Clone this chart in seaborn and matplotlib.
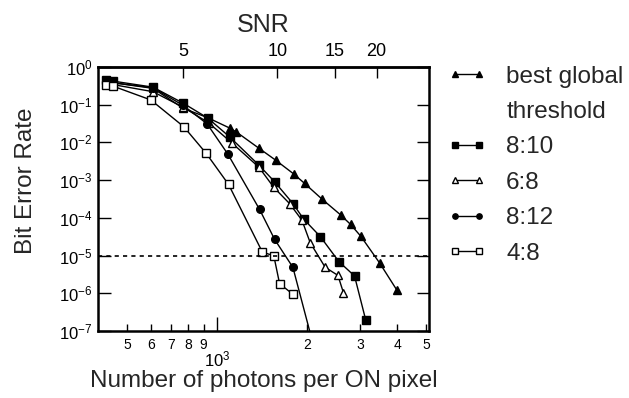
import matplotlib
matplotlib.use("Agg")
import seaborn as sns
import matplotlib.pyplot as plt
from matplotlib.lines import Line2D
from matplotlib.ticker import FixedLocator, FixedFormatter, NullLocator

# values: photons per ON pixel vs. bit error rate
photons_global = [425, 448, 610, 770, 930, 1100, 1157, 1378, 1566, 1803, 1958,
                  2244, 2584, 2790, 3015, 3488, 3989]
ber_global = [0.40, 0.38, 0.27, 0.08, 0.045, 0.024, 0.019, 7.0e-3, 3.4e-3, 1.45e-3,
              8.2e-4, 3.1e-4, 1.2e-4, 6.7e-5, 3.3e-5, 6.4e-6, 1.2e-6]

photons_8_10 = [425, 448, 610, 770, 930, 1100, 1378, 1554, 1790, 1944, 2210, 2552,
                2876, 3136]
ber_8_10 = [0.44, 0.42, 0.29, 0.109, 0.044, 0.014, 2.5e-3, 9.1e-4, 2.4e-4, 9.3e-5,
            3.2e-5, 6.9e-6, 2.9e-6, 1.95e-7]

photons_6_8 = [425, 448, 610, 770, 936, 1122, 1378, 1546, 1744, 1919, 2045, 2295,
               2531, 2642]
ber_6_8 = [0.36, 0.34, 0.22, 0.085, 0.033, 9.5e-3, 2.2e-3, 6.4e-4, 2.4e-4, 8.7e-5,
           2.2e-5, 4.9e-6, 3.0e-6, 1.03e-6]

photons_8_12 = [425, 448, 610, 770, 925, 1085, 1385, 1555, 1790, 2100]
ber_8_12 = [0.40, 0.38, 0.28, 0.095, 0.031, 4.9e-3, 1.68e-4, 2.7e-5, 4.9e-6, 4e-8]

photons_4_8 = [425, 448, 600, 773, 919, 1091, 1414, 1546, 1616, 1790]
ber_4_8 = [0.33, 0.31, 0.133, 0.026, 5.1e-3, 7.7e-4, 1.26e-5, 9.8e-6, 1.8e-6, 9.5e-7]

threshold_ber = 1e-5

# bottom axis ticks
x_major = [1000]
x_major_labels = ["$10^3$"]
x_minor = [500, 600, 700, 800, 900, 2000, 3000, 4000, 5000]
x_minor_labels = ["5", "6", "7", "8", "9", "2", "3", "4", "5"]

# top axis: SNR values and where they sit on the photon scale
snr_labels = ["5", "10", "15", "20"]
snr_photons = [770, 1590, 2470, 3410]

y_ticks = [1e0, 1e-1, 1e-2, 1e-3, 1e-4, 1e-5, 1e-6, 1e-7]
y_labels = ["$10^{0}$", "$10^{-1}$", "$10^{-2}$", "$10^{-3}$", "$10^{-4}$",
            "$10^{-5}$", "$10^{-6}$", "$10^{-7}$"]

sns.set_style("ticks")
plt.rcParams['font.family'] = ['Liberation Sans', 'DejaVu Sans']
plt.rcParams['mathtext.fontset'] = 'custom'
plt.rcParams['mathtext.rm'] = 'Liberation Sans'
plt.rcParams['mathtext.default'] = 'regular'
plt.rcParams['axes.axisbelow'] = False
plt.rcParams['xtick.color'] = 'black'
plt.rcParams['ytick.color'] = 'black'

fig = plt.figure(figsize=(6.29, 3.98), dpi=100)
ax = fig.add_axes([0.156, 0.168, 0.526, 0.664])

series = [
    ("best global", photons_global, ber_global, "^", "black"),
    ("8:10", photons_8_10, ber_8_10, "s", "black"),
    ("6:8", photons_6_8, ber_6_8, "^", "white"),
    ("8:12", photons_8_12, ber_8_12, "o", "black"),
    ("4:8", photons_4_8, ber_4_8, "s", "white"),
]
for name, xs, ys, mk, fc in series:
    sns.lineplot(x=xs, y=ys, ax=ax, color="black", linewidth=1.0, marker=mk,
                 markersize=5.5, markerfacecolor=fc, markeredgecolor="black",
                 markeredgewidth=1.0, label=name, legend=False)

ax.axhline(threshold_ber, color="black", linestyle=(0, (2.5, 2.5)), linewidth=1.2)

ax.set_xscale("log")
ax.set_yscale("log")
ax.set_xlim(400, 5100)
ax.set_ylim(1e-7, 1e0)

ax.xaxis.set_major_locator(FixedLocator(x_major))
ax.xaxis.set_major_formatter(FixedFormatter(x_major_labels))
ax.xaxis.set_minor_locator(FixedLocator(x_minor))
ax.xaxis.set_minor_formatter(FixedFormatter(x_minor_labels))
ax.yaxis.set_major_locator(FixedLocator(y_ticks))
ax.yaxis.set_major_formatter(FixedFormatter(y_labels))
ax.yaxis.set_minor_locator(NullLocator())

ax.tick_params(axis="x", which="major", direction="in", length=10, width=1.0,
               labelsize=12, pad=13, bottom=True, top=False)
ax.tick_params(axis="x", which="minor", direction="in", length=5, width=1.0,
               labelsize=10, pad=5, bottom=True, top=False)
ax.tick_params(axis="y", which="major", direction="in", length=9, width=1.0,
               labelsize=12, pad=4, left=True, right=True)

# SNR on the top axis (same photon scale, different labels)
top = ax.secondary_xaxis("top")
top.set_xticks(snr_photons, labels=snr_labels)
top.xaxis.set_minor_locator(NullLocator())
top.tick_params(axis="x", which="major", direction="in", length=8, width=1.0,
                labelsize=13, pad=5)
top.set_xlabel("SNR", fontsize=18, labelpad=8)
top.spines["top"].set_linewidth(1.8)

for s in ax.spines.values():
    s.set_linewidth(1.8)
    s.set_color("black")

ax.set_xlabel("Number of photons per ON pixel", fontsize=17.5, labelpad=1)
ax.set_ylabel("Bit Error Rate", fontsize=17.5)
ax.yaxis.set_label_coords(-0.185, 0.57)

# legend with an empty row for the second line of the first label
handles, labels = ax.get_legend_handles_labels()
blank = Line2D([], [], linestyle="none", marker=None)
handles.insert(1, blank)
labels.insert(1, "threshold")
fig.legend(handles, labels, loc="upper left", bbox_to_anchor=(0.712, 0.835),
           frameon=False, fontsize=17.5, numpoints=2, handlelength=1.6,
           handletextpad=0.8, labelspacing=0.55, borderpad=0, borderaxespad=0,
           markerscale=0.7)

fig.savefig("out.png", dpi=100)
